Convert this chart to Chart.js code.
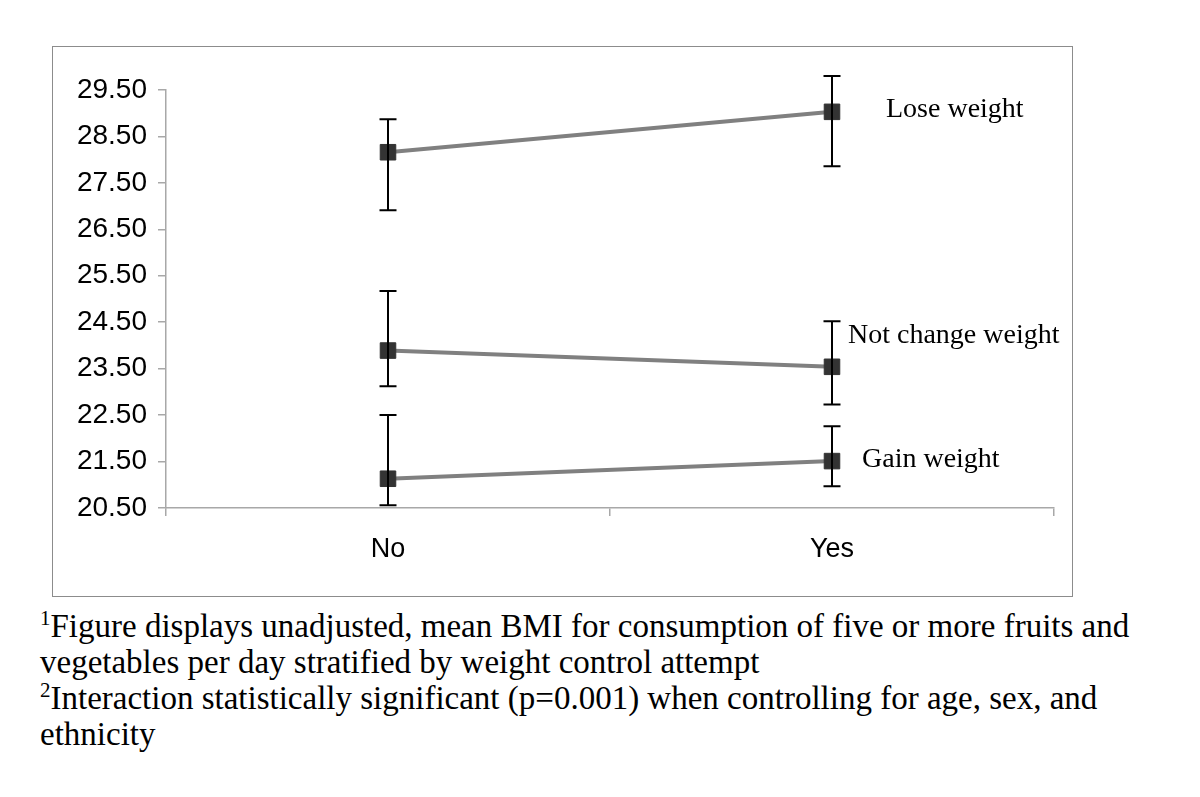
<!DOCTYPE html>
<html>
<head>
<meta charset="utf-8">
<title>Mean BMI by weight control attempt</title>
<script src="https://cdn.jsdelivr.net/npm/chart.js@4.4.0/dist/chart.umd.min.js"></script>
<style>
  body { margin: 0; background: #fff; width: 1200px; height: 797px; position: relative; overflow: hidden; }
  #frame { position: absolute; left: 52px; top: 46px; width: 1019px; height: 549px; border: 1.5px solid #8c8c8c; }
  #chartBox { position: relative; width: 1019px; height: 549px; }
  #notes {
    position: absolute; left: 40px; top: 608px;
    font-family: "Liberation Serif", "Times New Roman", serif;
    font-size: 33px; line-height: 36px; color: #000; white-space: nowrap;
  }
  #notes sup { font-size: 21px; line-height: 0; vertical-align: 12px; }
</style>
</head>
<body>
<div id="frame"><div id="chartBox"><canvas id="bmiChart"></canvas></div></div>
<div id="notes">
  <sup>1</sup>Figure displays unadjusted, mean BMI for consumption of five or more fruits and<br>
  vegetables per day stratified by weight control attempt<br>
  <sup>2</sup>Interaction statistically significant (p=0.001) when controlling for age, sex, and<br>
  ethnicity
</div>
<script>
// categories (weight control attempt)
const categories = ['No', 'Yes'];
const seriesNames = ['Lose weight', 'Not change weight', 'Gain weight'];

// mean BMI per series
const loseMean = [28.16, 29.03];
const notChangeMean = [23.89, 23.54];
const gainMean = [21.13, 21.51];

// error bar ends
const loseLow = [26.91, 27.86];
const loseHigh = [28.87, 29.80];
const notChangeLow = [23.12, 22.73];
const notChangeHigh = [25.17, 24.52];
const gainLow = [20.56, 20.97];
const gainHigh = [22.50, 22.26];

// y axis ticks
const yMin = 20.5;
const yMax = 29.5;
const yStep = 1;

const lows = [loseLow, notChangeLow, gainLow];
const highs = [loseHigh, notChangeHigh, gainHigh];

// where the series names sit, relative to the 'Yes' point (pixels)
const labelDx = [54, 16, 30];
const labelDy = [-2, -31, -1];

const axisGray = '#a8a8a8';

const errorBars = {
  id: 'errorBars',
  afterDatasetsDraw(chart) {
    const ctx = chart.ctx;
    const y = chart.scales.y;
    ctx.save();
    ctx.strokeStyle = '#000';
    ctx.lineWidth = 2;
    chart.data.datasets.forEach((ds, i) => {
      const meta = chart.getDatasetMeta(i);
      meta.data.forEach((pt, j) => {
        const top = y.getPixelForValue(highs[i][j]);
        const bot = y.getPixelForValue(lows[i][j]);
        const x = Math.round(pt.x);
        ctx.beginPath();
        ctx.moveTo(x, top);
        ctx.lineTo(x, bot);
        ctx.moveTo(x - 8.5, top);
        ctx.lineTo(x + 8.5, top);
        ctx.moveTo(x - 8.5, bot);
        ctx.lineTo(x + 8.5, bot);
        ctx.stroke();
      });
    });
    ctx.restore();
  }
};

const seriesLabels = {
  id: 'seriesLabels',
  afterDraw(chart) {
    const ctx = chart.ctx;
    ctx.save();
    ctx.font = '28px "Liberation Serif", "Times New Roman", serif';
    ctx.fillStyle = '#000';
    ctx.textAlign = 'left';
    ctx.textBaseline = 'middle';
    chart.data.datasets.forEach((ds, i) => {
      const pt = chart.getDatasetMeta(i).data[1];
      ctx.fillText(ds.label, pt.x + labelDx[i], pt.y + labelDy[i]);
    });
    ctx.restore();
  }
};

function makeSeries(name, values) {
  return {
    label: name,
    data: values,
    borderColor: '#808080',
    borderWidth: 4,
    pointStyle: 'rect',
    pointRadius: 11,
    pointBackgroundColor: '#333333',
    pointBorderColor: '#333333',
    pointBorderWidth: 1,
    tension: 0
  };
}

const ctx = document.getElementById('bmiChart').getContext('2d');
const bmiChart = new Chart(ctx, {
  type: 'line',
  data: {
    labels: categories,
    datasets: [
      makeSeries(seriesNames[0], loseMean),
      makeSeries(seriesNames[1], notChangeMean),
      makeSeries(seriesNames[2], gainMean)
    ]
  },
  options: {
    responsive: true,
    maintainAspectRatio: false,
    animation: false,
    layout: { padding: { top: 43, right: 18, left: 0, bottom: 0 } },
    plugins: { legend: { display: false }, tooltip: { enabled: false } },
    scales: {
      x: {
        offset: true,
        afterFit(scale) { scale.height = 88; },
        grid: { offset: true, drawOnChartArea: false, tickLength: 8, color: axisGray, lineWidth: 1.5 },
        border: { color: axisGray, width: 1.5 },
        ticks: {
          color: '#000',
          padding: 17,
          font: { family: '"Liberation Sans", Arial, sans-serif', size: 27 }
        }
      },
      y: {
        min: yMin,
        max: yMax,
        afterFit(scale) { scale.width = 113; },
        grid: { drawOnChartArea: false, tickLength: 8, color: axisGray, lineWidth: 1.5 },
        border: { color: axisGray, width: 1.5 },
        ticks: {
          stepSize: yStep,
          color: '#000',
          padding: 11,
          font: { family: '"Liberation Sans", Arial, sans-serif', size: 28 },
          callback: v => Number(v).toFixed(2)
        }
      }
    }
  },
  plugins: [errorBars, seriesLabels]
});
</script>
</body>
</html>
